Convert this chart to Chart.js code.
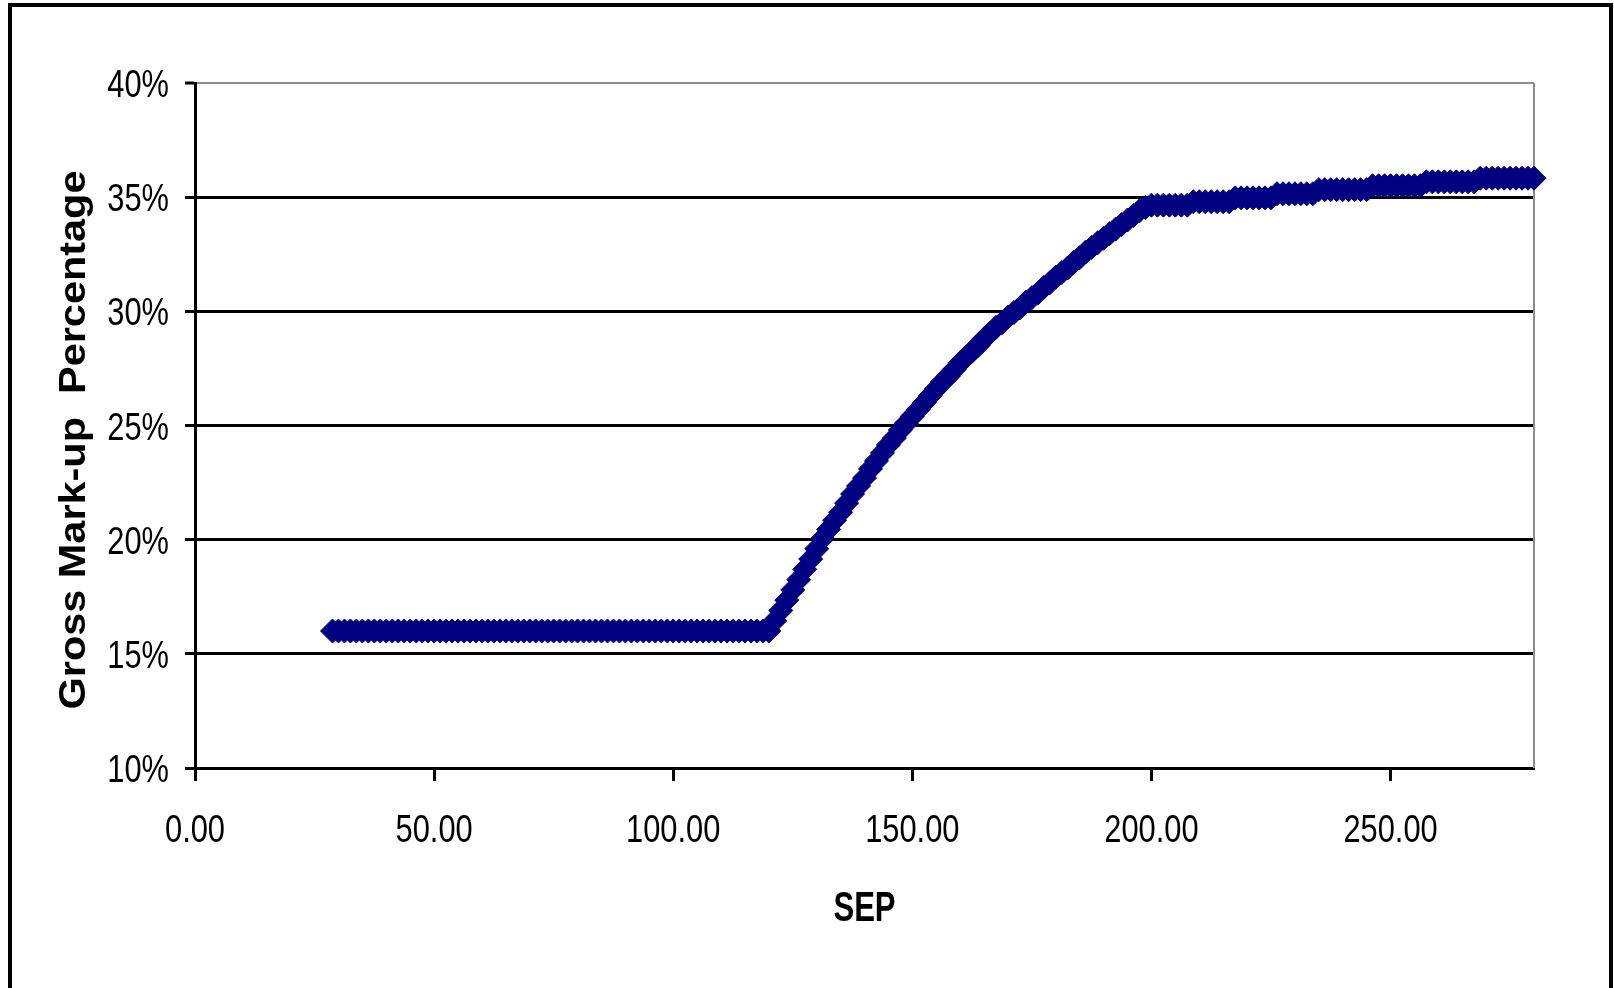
<!DOCTYPE html>
<html>
<head>
<meta charset="utf-8">
<title>Gross Mark-up Percentage by SEP</title>
<script src="https://cdn.jsdelivr.net/npm/chart.js@4.4.1/dist/chart.umd.min.js"></script>
<style>
  html, body { margin: 0; padding: 0; background: #ffffff; }
  #wrap { position: relative; width: 1614px; height: 988px; }
</style>
</head>
<body>
<div id="wrap"><canvas id="chart" width="1614" height="988"></canvas></div>
<script>
// Selling price (SEP) for each observation
const sepValues = [
  28.75, 30, 31.25, 32.5, 33.75, 35, 36.25, 37.5, 38.75, 40,
  41.25, 42.5, 43.75, 45, 46.25, 47.5, 48.75, 50, 51.25, 52.5,
  53.75, 55, 56.25, 57.5, 58.75, 60, 61.25, 62.5, 63.75, 65,
  66.25, 67.5, 68.75, 70, 71.25, 72.5, 73.75, 75, 76.25, 77.5,
  78.75, 80, 81.25, 82.5, 83.75, 85, 86.25, 87.5, 88.75, 90,
  91.25, 92.5, 93.75, 95, 96.25, 97.5, 98.75, 100, 101.25, 102.5,
  103.75, 105, 106.25, 107.5, 108.75, 110, 111.25, 112.5, 113.75, 115,
  116.25, 117.5, 118.75, 120, 121.25, 122.5, 123.75, 125, 126.25, 127.5,
  128.75, 130, 131.25, 132.5, 133.75, 135, 136.25, 137.5, 138.75, 140,
  141.25, 142.5, 143.75, 145, 146.25, 147.5, 148.75, 150, 151.25, 152.5,
  153.75, 155, 156.25, 157.5, 158.75, 160, 161.25, 162.5, 163.75, 165,
  166.25, 167.5, 168.75, 170, 171.25, 172.5, 173.75, 175, 176.25, 177.5,
  178.75, 180, 181.25, 182.5, 183.75, 185, 186.25, 187.5, 188.75, 190,
  191.25, 192.5, 193.75, 195, 196.25, 197.5, 198.75, 200, 201.25, 202.5,
  203.75, 205, 206.25, 207.5, 208.75, 210, 211.25, 212.5, 213.75, 215,
  216.25, 217.5, 218.75, 220, 221.25, 222.5, 223.75, 225, 226.25, 227.5,
  228.75, 230, 231.25, 232.5, 233.75, 235, 236.25, 237.5, 238.75, 240,
  241.25, 242.5, 243.75, 245, 246.25, 247.5, 248.75, 250, 251.25, 252.5,
  253.75, 255, 256.25, 257.5, 258.75, 260, 261.25, 262.5, 263.75, 265,
  266.25, 267.5, 268.75, 270, 271.25, 272.5, 273.75, 275, 276.25, 277.5,
  278.75, 280
];

// Gross mark-up (%) at each SEP
const markupValues = [
  16, 16, 16, 16, 16, 16, 16, 16, 16, 16,
  16, 16, 16, 16, 16, 16, 16, 16, 16, 16,
  16, 16, 16, 16, 16, 16, 16, 16, 16, 16,
  16, 16, 16, 16, 16, 16, 16, 16, 16, 16,
  16, 16, 16, 16, 16, 16, 16, 16, 16, 16,
  16, 16, 16, 16, 16, 16, 16, 16, 16, 16,
  16, 16, 16, 16, 16, 16, 16, 16, 16, 16,
  16, 16, 16, 16, 16.45, 16.9, 17.35, 17.8, 18.25, 18.7,
  19.15, 19.6, 20.05, 20.45, 20.85, 21.2, 21.6, 22.0, 22.35, 22.7,
  23.1, 23.45, 23.8, 24.15, 24.45, 24.8, 25.1, 25.4, 25.7, 26.0,
  26.3, 26.6, 26.9, 27.15, 27.45, 27.75, 28.0, 28.25, 28.5, 28.8,
  29.05, 29.3, 29.5, 29.75, 29.95, 30.15, 30.4, 30.6, 30.8, 31.05,
  31.25, 31.5, 31.7, 31.9, 32.15, 32.35, 32.6, 32.8, 33.0, 33.2,
  33.4, 33.6, 33.8, 34.0, 34.2, 34.4, 34.55, 34.65, 34.65, 34.65,
  34.65, 34.65, 34.65, 34.65, 34.8, 34.8, 34.8, 34.8, 34.8, 34.8,
  34.8, 34.97, 34.97, 34.97, 34.97, 34.97, 34.97, 34.97, 35.15, 35.15,
  35.15, 35.15, 35.15, 35.15, 35.15, 35.33, 35.33, 35.33, 35.33, 35.33,
  35.33, 35.33, 35.33, 35.33, 35.5, 35.5, 35.5, 35.5, 35.5, 35.5,
  35.5, 35.5, 35.5, 35.67, 35.67, 35.67, 35.67, 35.67, 35.67, 35.67,
  35.67, 35.67, 35.83, 35.83, 35.83, 35.83, 35.83, 35.83, 35.83, 35.83,
  35.83, 35.83
];

// Axis settings
const yTickValues = [10, 15, 20, 25, 30, 35, 40];
const xTickStep = 50;
const xMin = 0, xMax = 280;
const xTitle = 'SEP';
const yTitle = 'Gross Mark-up  Percentage';

const points = sepValues.map((x, i) => ({ x: x, y: markupValues[i] }));

const sansFamily = "'Liberation Sans', Arial, 'DejaVu Sans', sans-serif";

// Draws text squeezed horizontally (condensed face look)
function drawCondensed(ctx, text, x, y, align, font, squeeze) {
  ctx.save();
  ctx.translate(x, y);
  ctx.scale(squeeze, 1);
  ctx.font = font;
  ctx.textAlign = align;
  ctx.textBaseline = 'alphabetic';
  ctx.fillText(text, 0, 0);
  ctx.restore();
}

// Page frame, plot border, tick labels and axis titles
const decorations = {
  id: 'decorations',
  beforeDraw(chart) {
    const ctx = chart.ctx;
    ctx.save();
    ctx.fillStyle = '#ffffff';
    ctx.fillRect(0, 0, chart.width, chart.height);
    ctx.strokeStyle = '#000000';
    ctx.lineWidth = 4;
    ctx.beginPath();
    ctx.moveTo(10, chart.height + 10);
    ctx.lineTo(10, 5);
    ctx.lineTo(chart.width - 3, 5);
    ctx.lineTo(chart.width - 3, chart.height + 10);
    ctx.stroke();
    ctx.restore();
  },
  beforeDatasetsDraw(chart) {
    const { ctx, chartArea } = chart;
    ctx.save();
    ctx.strokeStyle = '#8c8c8c';
    ctx.lineWidth = 2;
    ctx.beginPath();
    ctx.moveTo(chartArea.right, chartArea.top);
    ctx.lineTo(chartArea.right, chartArea.bottom);
    ctx.stroke();
    ctx.restore();
  },
  afterDraw(chart) {
    const { ctx, chartArea } = chart;
    const xs = chart.scales.x;
    const ys = chart.scales.y;
    ctx.save();
    ctx.fillStyle = '#000000';
    const tickFont = '39px ' + sansFamily;
    // tick labels, taken from the scales' own ticks
    xs.ticks.forEach(t => {
      drawCondensed(ctx, t.label, xs.getPixelForValue(t.value), xs.top + 74, 'center', tickFont, 0.79);
    });
    ys.ticks.forEach(t => {
      drawCondensed(ctx, t.label, ys.right - 26, ys.getPixelForValue(t.value) + 14, 'right', tickFont, 0.79);
    });
    // x-axis title
    drawCondensed(ctx, xTitle, (chartArea.left + chartArea.right) / 2, 921, 'center', 'bold 42px ' + sansFamily, 0.74);
    // y-axis title, rotated
    ctx.translate(85, 440);
    ctx.rotate(-Math.PI / 2);
    ctx.scale(1.12, 1);
    ctx.font = 'bold 37px ' + sansFamily;
    ctx.textAlign = 'center';
    ctx.textBaseline = 'alphabetic';
    ctx.fillText(yTitle, 0, 0);
    ctx.restore();
  }
};

new Chart(document.getElementById('chart'), {
  type: 'scatter',
  data: {
    datasets: [{
      data: points,
      pointStyle: 'rectRot',
      pointRadius: 12,
      pointHoverRadius: 12,
      pointBackgroundColor: '#000080',
      pointBorderColor: '#000080',
      pointBorderWidth: 1,
      showLine: false,
      clip: false
    }]
  },
  options: {
    responsive: false,
    animation: false,
    events: [],
    layout: { padding: { top: 83, right: 80, left: 0, bottom: 0 } },
    plugins: { legend: { display: false }, tooltip: { enabled: false } },
    scales: {
      x: {
        type: 'linear',
        min: xMin,
        max: xMax,
        afterFit(scale) { scale.height = 220; },
        ticks: {
          display: false,
          stepSize: xTickStep,
          includeBounds: false,
          callback: v => Number(v).toFixed(2)
        },
        grid: {
          drawOnChartArea: false,
          drawTicks: true,
          tickLength: 13,
          tickWidth: 3,
          tickColor: '#000000'
        },
        border: { color: '#000000', width: 3 }
      },
      y: {
        type: 'linear',
        min: yTickValues[0],
        max: yTickValues[yTickValues.length - 1],
        afterFit(scale) { scale.width = 195; },
        afterBuildTicks(scale) { scale.ticks = yTickValues.map(v => ({ value: v })); },
        ticks: {
          display: false,
          callback: v => v + '%'
        },
        grid: {
          color: c => (c.tick && c.tick.value === 40 ? '#8c8c8c' : '#000000'),
          lineWidth: c => (c.tick && c.tick.value === 40 ? 2 : 3),
          tickLength: 10,
          tickWidth: 3,
          tickColor: '#000000'
        },
        border: { color: '#000000', width: 3 }
      }
    }
  },
  plugins: [decorations]
});
</script>
</body>
</html>
